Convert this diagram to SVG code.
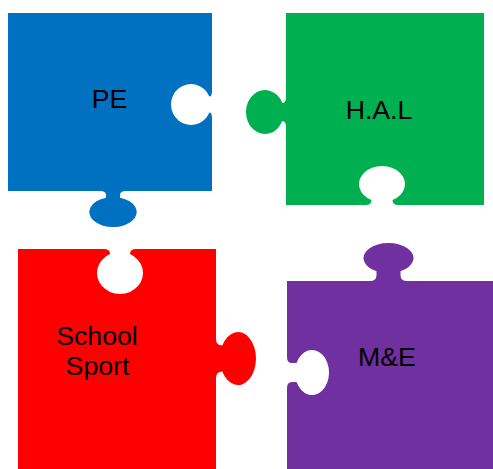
<svg xmlns="http://www.w3.org/2000/svg" width="493" height="469" viewBox="0 0 493 469">
  <style>
    .label { font-family: "Liberation Sans", Arial, sans-serif; font-size: 26.7px; fill: #000000; text-anchor: middle; }
    .pe { fill: #0070C0; }
    .hal { fill: #00B050; }
    .sport { fill: #FF0000; }
    .me { fill: #7030A0; }
  </style>
  <rect width="493" height="469" fill="#ffffff"/>

  <!-- Blue piece: blank on the right, tab at the bottom -->
  <g id="piece-pe">
    <path class="pe" d="M8,13 H212 V91 Q212,96.5 209.4,96.5 A20,20.5 0 1 0 209.4,112.5 Q212,112.5 212,118 V191 H126 Q120,191 120,195 L120,197.7 A23.7,15 0 1 1 106,197.7 L106,195 Q106,191 100,191 H8 Z"/>
    <text class="label" x="109.5" y="108">PE</text>
  </g>

  <!-- Green piece: tab on the left, blank at the bottom -->
  <g id="piece-hal">
    <path class="hal" d="M286,13 H484 V205 H398 Q392.5,205 392.5,200 A23,18 0 1 0 371.5,200 Q371.5,205 366,205 H286 V127 Q286,121 282.3,121 A19,22 0 1 1 282.3,103 Q286,103 286,97 Z"/>
    <text class="label" x="379" y="119">H.A.L</text>
  </g>

  <!-- Red piece: blank at the top, tab on the right -->
  <g id="piece-school-sport">
    <path class="sport" d="M18,249 H104 Q110,249 110,254.1 A23,21 0 1 0 130,254.1 Q130,249 136,249 H216 V339 Q216,345.5 222.3,345.5 A18,26.5 0 1 1 222.3,371.5 Q216,371.5 216,378 V469 H18 Z"/>
    <text class="label" x="97" y="345">School</text>
    <text class="label" x="97.5" y="375">Sport</text>
  </g>

  <!-- Purple piece: tab at the top, blank on the left -->
  <g id="piece-me">
    <path class="me" d="M287,281 H370 Q376.5,281 376.5,275 L376.5,271.2 A25,15 0 1 1 400.5,271.2 L400.5,275 Q400.5,281 407,281 H493 V469 H287 V388 Q287,382 292,382 L296.6,382 A17,22.5 0 1 0 296.6,363 L292,363 Q287,363 287,357 Z"/>
    <text class="label" x="387" y="366">M&amp;E</text>
  </g>
</svg>
